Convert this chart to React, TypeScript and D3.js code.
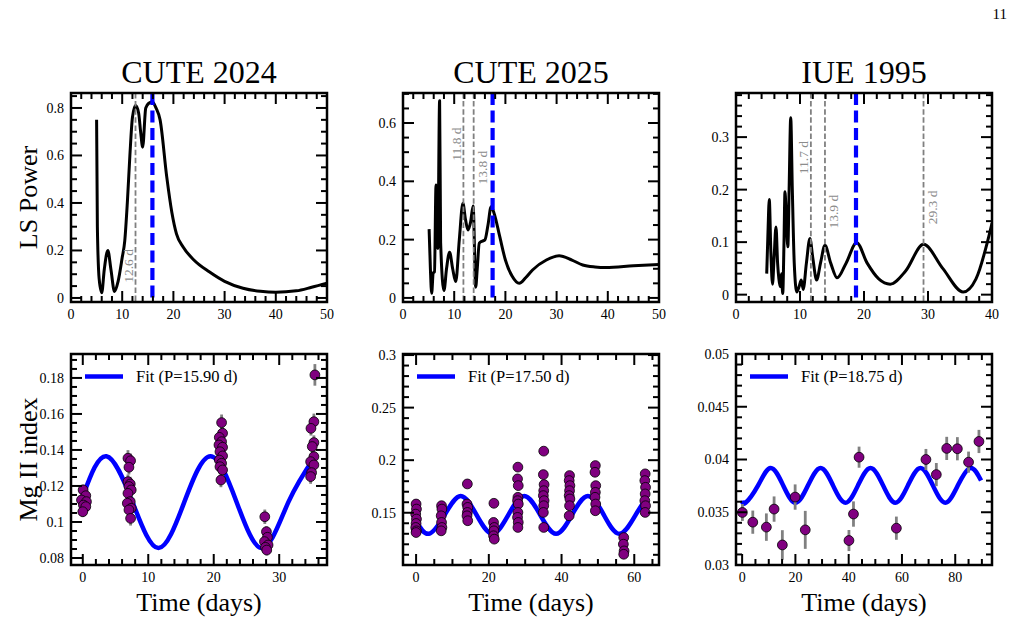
import React from "react";
import * as d3 from "d3";

// ---------- Lomb-Scargle periodograms (period in days -> power) ----------
const lsPeriodCute24 = [5.0, 5.15, 5.5, 6.0, 6.5, 7.2, 7.8, 8.5, 9.2, 10.0, 10.5, 11.0, 11.5, 12.0, 12.6, 13.2, 13.6, 14.0, 14.6, 15.2, 15.9, 16.6, 17.4, 18.7, 19.7, 20.6, 21.9, 24.0, 27.0, 30.0, 33.6, 37.0, 40.0, 44.0, 47.0, 50.0];
const lsPowerCute24 = [0.75, 0.3, 0.08, 0.022, 0.12, 0.2, 0.12, 0.027, 0.07, 0.17, 0.24, 0.4, 0.6, 0.76, 0.81, 0.78, 0.7, 0.635, 0.8, 0.82, 0.826, 0.8, 0.75, 0.51, 0.36, 0.27, 0.215, 0.16, 0.11, 0.07, 0.041, 0.028, 0.024, 0.03, 0.045, 0.062];

const lsPeriodCute25 = [5.1, 5.35, 5.6, 5.9, 6.15, 6.45, 6.8, 7.15, 7.35, 8.0, 8.5, 9.1, 9.7, 10.3, 11.0, 11.7, 12.2, 12.7, 13.2, 13.7, 14.2, 14.5, 14.9, 15.5, 16.0, 16.6, 17.2, 17.8, 18.9, 20.0, 21.3, 22.7, 24.0, 25.3, 28.0, 30.5, 33.0, 35.1, 37.5, 39.6, 45.0, 50.0];
const lsPowerCute25 = [0.236, 0.1, 0.016, 0.086, 0.09, 0.387, 0.17, 0.676, 0.19, 0.025, 0.1, 0.157, 0.1, 0.056, 0.2, 0.325, 0.27, 0.233, 0.26, 0.315, 0.037, 0.1, 0.188, 0.195, 0.199, 0.25, 0.313, 0.29, 0.21, 0.13, 0.075, 0.05, 0.07, 0.096, 0.13, 0.145, 0.13, 0.113, 0.106, 0.104, 0.11, 0.115];

const lsPeriodIue = [4.8, 5.0, 5.2, 5.45, 5.7, 5.95, 6.25, 6.5, 6.7, 6.9, 7.1, 7.3, 7.5, 7.65, 7.85, 8.1, 8.3, 8.55, 8.8, 9.1, 9.5, 9.85, 10.2, 10.5, 11.0, 11.55, 12.0, 12.6, 13.2, 13.9, 14.8, 15.8, 17.2, 18.85, 20.5, 22.3, 24.1, 26.5, 29.3, 32.3, 35.5, 37.5, 40.0];
const lsPowerIue = [0.04, 0.12, 0.181, 0.08, 0.02, 0.07, 0.129, 0.06, 0.03, 0.015, 0.04, 0.002, 0.1, 0.196, 0.15, 0.091, 0.2, 0.337, 0.2, 0.06, 0.005, 0.015, 0.028, 0.01, 0.06, 0.107, 0.07, 0.028, 0.06, 0.094, 0.06, 0.032, 0.06, 0.099, 0.06, 0.03, 0.02, 0.045, 0.096, 0.05, 0.005, 0.03, 0.136];

// best period (blue) and other marked peaks (grey)
const bestPeriods = [15.9, 17.5, 18.75];
const peakCute24 = [12.6];
const peakCute25 = [11.8, 13.8];
const peakIue = [11.7, 13.9, 29.3];
const peakLabelPowCute24 = [0.135];
const peakLabelPowCute25 = [0.528, 0.447];
const peakLabelPowIue = [0.261, 0.158, 0.166];
const peakLabelSideCute24 = ["left"];
const peakLabelSideCute25 = ["left", "right"];
const peakLabelSideIue = ["left", "right", "right"];

// ---------- Mg II index time series ----------
const timeCute24 = [
  0.05, 0.46, -0.2, 0.56, 0.1, 0.46, 0.0,
  6.9, 7.3, 7.05, 6.9, 7.25, 7.05, 7.4, 6.9, 7.25, 6.8, 7.4, 7.05, 7.3,
  21.2, 21.35, 20.85, 21.2, 20.8, 21.35, 20.95, 21.35, 20.85, 21.2, 20.95, 21.35, 21.1,
  27.8, 28.05, 28.2, 27.75, 28.3, 27.9, 28.1,
  35.45, 35.3, 34.85, 35.3, 35.05, 35.3, 34.8, 35.3, 34.95, 34.8,
];
const mgCute24 = [
  0.1178, 0.1146, 0.1122, 0.1113, 0.1094, 0.1085, 0.1057,
  0.1354, 0.134, 0.1304, 0.1224, 0.1211, 0.1197, 0.1178, 0.1159, 0.1113, 0.1104, 0.1076, 0.1067, 0.102,
  0.1552, 0.1493, 0.147, 0.1446, 0.1428, 0.1415, 0.139, 0.1367, 0.1344, 0.1326, 0.1307, 0.1289, 0.1233,
  0.1029, 0.0946, 0.0915, 0.0891, 0.0872, 0.0859, 0.0844,
  0.1817, 0.1557, 0.152, 0.1441, 0.1419, 0.1363, 0.1335, 0.1317, 0.1274, 0.1252,
];
const errCute24 = [
  0.003, 0.003, 0.003, 0.003, 0.003, 0.003, 0.003,
  0.0045, 0.004, 0.004, 0.004, 0.004, 0.004, 0.004, 0.004, 0.004, 0.004, 0.004, 0.004, 0.004,
  0.0045, 0.004, 0.004, 0.004, 0.004, 0.004, 0.004, 0.004, 0.004, 0.004, 0.004, 0.004, 0.004,
  0.004, 0.003, 0.003, 0.003, 0.003, 0.003, 0.003,
  0.006, 0.0045, 0.004, 0.004, 0.004, 0.004, 0.004, 0.004, 0.004, 0.004,
];

const timeCute25 = [
  0.0, 0.1, -0.1, 0.1, 0.0, -0.1, 0.1, 0.0,
  7.0, 7.1, 6.9, 7.0, 7.1, 6.9,
  14.1, 14.0, 14.2, 14.1, 14.0, 14.2,
  21.4, 21.3, 21.5, 21.4, 21.3, 21.5,
  28.0, 27.9, 28.1, 28.0, 27.9, 28.1, 28.0, 27.9, 28.1, 28.0,
  35.1, 35.0, 35.2, 35.1, 35.0, 35.2, 35.1, 35.0, 35.1,
  42.2, 42.1, 42.3, 42.2, 42.1, 42.3, 42.2, 42.1,
  49.3, 49.2, 49.4, 49.3, 49.2, 49.4, 49.3,
  57.1, 57.0, 57.2, 57.1,
  63.0, 62.9, 63.1, 63.0, 62.9, 63.1, 63.0,
];
const mgCute25 = [
  0.1583, 0.1535, 0.1487, 0.144, 0.1398, 0.136, 0.1328, 0.1312,
  0.1567, 0.1535, 0.1471, 0.1408, 0.136, 0.1328,
  0.1774, 0.1583, 0.1551, 0.1503, 0.1471, 0.1424,
  0.159, 0.1408, 0.136, 0.1328, 0.1281, 0.1249,
  0.1934, 0.1822, 0.1758, 0.1647, 0.1615, 0.1583, 0.1503, 0.1456, 0.1408, 0.136,
  0.2086, 0.1863, 0.1768, 0.171, 0.1663, 0.1615, 0.1567, 0.1503, 0.136,
  0.1854, 0.1806, 0.1758, 0.171, 0.1663, 0.1631, 0.1567, 0.1471,
  0.1949, 0.1885, 0.1758, 0.1694, 0.1647, 0.1583, 0.1519,
  0.1264, 0.1201, 0.1137, 0.1105,
  0.187, 0.1806, 0.1742, 0.1679, 0.1615, 0.1567, 0.1503,
];
const errCute25 = mgCute25.map(() => 0.003);

const timeIue = [0.1, 4.0, 9.1, 12.0, 15.1, 19.9, 23.7, 40.1, 41.8, 43.9, 57.9, 69.0, 72.9, 76.8, 80.8, 85.0, 88.9];
const mgIue = [0.03498, 0.03406, 0.03359, 0.0353, 0.0319, 0.03644, 0.03333, 0.03232, 0.03483, 0.04022, 0.03349, 0.04, 0.03857, 0.04105, 0.04102, 0.03975, 0.04171];
const errIue = [0.0008, 0.0011, 0.0013, 0.0012, 0.0014, 0.0012, 0.0018, 0.001, 0.0012, 0.001, 0.0011, 0.001, 0.0011, 0.0011, 0.0011, 0.001, 0.0011];

// fitted sinusoids at extrema and mid-crossings
const fitTimeCute24 = [0.1, 3.6, 7.6, 11.55, 15.5, 19.5, 23.5, 27.45, 31.4, 35.5];
const fitMgCute24 = [0.1152, 0.1365, 0.111, 0.0855, 0.111, 0.1365, 0.111, 0.0855, 0.111, 0.1365];
const fitTimeCute25 = [0, 3.5, 7.875, 12.25, 16.625, 21.0, 25.375, 29.75, 34.125, 38.5, 42.875, 47.25, 51.625, 56.0, 60.375, 63.2];
const fitMgCute25 = [0.1424, 0.13, 0.148, 0.166, 0.148, 0.13, 0.148, 0.166, 0.148, 0.13, 0.148, 0.166, 0.148, 0.13, 0.148, 0.163];
const fitTimeIue = [0, 1.3, 6.0, 10.7, 15.4, 20.05, 24.75, 29.45, 34.1, 38.8, 43.5, 48.2, 52.9, 57.55, 62.25, 66.95, 71.6, 76.3, 81.0, 85.7, 89.7];
const fitMgIue = [0.0361, 0.0359, 0.03755, 0.0392, 0.03755, 0.0359, 0.03755, 0.0392, 0.03755, 0.0359, 0.03755, 0.0392, 0.03755, 0.0359, 0.03755, 0.0392, 0.03755, 0.0359, 0.03755, 0.0392, 0.038];

const titles = ["CUTE 2024", "CUTE 2025", "IUE 1995"];
const fitLabels = ["Fit (P=15.90 d)", "Fit (P=17.50 d)", "Fit (P=18.75 d)"];

// ---------- layout ----------
const W = 1019, H = 625;
const FONT = '"Liberation Serif", "Times New Roman", "DejaVu Serif", serif';
const colLeft = [71, 403, 736];
const plotW = 256;
const topRow = [93, 302];
const botRow = [354, 565];

const lsPanels = [
  { period: lsPeriodCute24, power: lsPowerCute24, peaks: peakCute24, labelPow: peakLabelPowCute24, side: peakLabelSideCute24,
    xDomain: [0, 50], yDomain: [-0.017, 0.863], xMajor: 10, xMinor: 2, yMajor: 0.2, yMinor: 0.05 },
  { period: lsPeriodCute25, power: lsPowerCute25, peaks: peakCute25, labelPow: peakLabelPowCute25, side: peakLabelSideCute25,
    xDomain: [0, 50], yDomain: [-0.014, 0.703], xMajor: 10, xMinor: 2, yMajor: 0.2, yMinor: 0.05 },
  { period: lsPeriodIue, power: lsPowerIue, peaks: peakIue, labelPow: peakLabelPowIue, side: peakLabelSideIue,
    xDomain: [0, 40], yDomain: [-0.014, 0.384], xMajor: 10, xMinor: 2, yMajor: 0.1, yMinor: 0.02 },
];

const tsPanels = [
  { t: timeCute24, v: mgCute24, e: errCute24, ft: fitTimeCute24, fv: fitMgCute24,
    xDomain: [-1.8, 37.3], yDomain: [0.0761, 0.1933], xMajor: 10, xMinor: 2, yMajor: 0.02, yMinor: 0.005 },
  { t: timeCute25, v: mgCute25, e: errCute25, ft: fitTimeCute25, fv: fitMgCute25,
    xDomain: [-3.6, 66.8], yDomain: [0.1003, 0.301], xMajor: 20, xMinor: 5, yMajor: 0.05, yMinor: 0.01 },
  { t: timeIue, v: mgIue, e: errIue, ft: fitTimeIue, fv: fitMgIue,
    xDomain: [-2.3, 93.8], yDomain: [0.03, 0.05], xMajor: 20, xMinor: 5, yMajor: 0.005, yMinor: 0.001 },
];

const fmt = (v: number) => String(+v.toFixed(6));

function stepTicks(domain: number[], step: number) {
  const lo = Math.ceil(domain[0] / step - 1e-6);
  const hi = Math.floor(domain[1] / step + 1e-6);
  return d3.range(lo, hi + 1).map((k) => +(k * step).toFixed(8));
}
const onStep = (v: number, step: number) => Math.abs(v / step - Math.round(v / step)) < 1e-6;

const Frame = ({ x, y, cfg }: any) => {
  const [x0, x1] = x.range();
  const [y1, y0] = y.range();
  const xMaj = stepTicks(x.domain(), cfg.xMajor);
  const xMin = stepTicks(x.domain(), cfg.xMinor).filter((v) => !onStep(v, cfg.xMajor));
  const yMaj = stepTicks(y.domain(), cfg.yMajor);
  const yMin = stepTicks(y.domain(), cfg.yMinor).filter((v) => !onStep(v, cfg.yMajor));
  const major = 11, minor = 6;
  const tick = { stroke: "#000", strokeWidth: 2 };
  return (
    <g>
      {xMaj.map((v) => (
        <g key={"xM" + v}>
          <line x1={x(v)} x2={x(v)} y1={y1} y2={y1 - major} {...tick} />
          <line x1={x(v)} x2={x(v)} y1={y0} y2={y0 + major} {...tick} />
          <text x={x(v)} y={y1 + 16.5} textAnchor="middle" fontSize={14}>{fmt(v)}</text>
        </g>
      ))}
      {xMin.map((v) => (
        <g key={"xm" + v}>
          <line x1={x(v)} x2={x(v)} y1={y1} y2={y1 - minor} {...tick} />
          <line x1={x(v)} x2={x(v)} y1={y0} y2={y0 + minor} {...tick} />
        </g>
      ))}
      {yMaj.map((v) => (
        <g key={"yM" + v}>
          <line x1={x0} x2={x0 + major} y1={y(v)} y2={y(v)} {...tick} />
          <line x1={x1} x2={x1 - major} y1={y(v)} y2={y(v)} {...tick} />
          <text x={x0 - 7} y={y(v)} dy="0.35em" textAnchor="end" fontSize={14}>{fmt(v)}</text>
        </g>
      ))}
      {yMin.map((v) => (
        <g key={"ym" + v}>
          <line x1={x0} x2={x0 + minor} y1={y(v)} y2={y(v)} {...tick} />
          <line x1={x1} x2={x1 - minor} y1={y(v)} y2={y(v)} {...tick} />
        </g>
      ))}
      <rect x={x0} y={y0} width={x1 - x0} height={y1 - y0} fill="none" stroke="#000" strokeWidth={2.5} />
    </g>
  );
};

const LSPanel = ({ i }: { i: number }) => {
  const cfg = lsPanels[i];
  const x = d3.scaleLinear().domain(cfg.xDomain).range([colLeft[i], colLeft[i] + plotW]);
  const y = d3.scaleLinear().domain(cfg.yDomain).range([topRow[1], topRow[0]]);
  const line = d3.line<number>()
    .x((d) => x(cfg.period[d]))
    .y((d) => y(cfg.power[d]))
    .curve(d3.curveMonotoneX);
  const [y1, y0] = y.range();
  return (
    <g>
      <clipPath id={"lsclip" + i}>
        <rect x={colLeft[i]} y={y0} width={plotW} height={y1 - y0} />
      </clipPath>
      <g clipPath={`url(#lsclip${i})`}>
        <path d={line(d3.range(cfg.period.length)) || ""} fill="none" stroke="#000" strokeWidth={3} strokeLinejoin="round" />
        {cfg.peaks.map((p) => (
          <line key={p} x1={x(p)} x2={x(p)} y1={y0} y2={y1} stroke="#808080" strokeWidth={1.8} strokeDasharray="5.5,2.6" />
        ))}
        <line x1={x(bestPeriods[i])} x2={x(bestPeriods[i])} y1={y0} y2={y1} stroke="#0000ff" strokeWidth={4.2} strokeDasharray="12,5.5" />
      </g>
      {cfg.peaks.map((p, k) => {
        const bx = cfg.side[k] === "left" ? x(p) - 2.5 : x(p) + 13;
        return (
          <text key={"l" + p} transform={`translate(${bx},${y(cfg.labelPow[k])}) rotate(-90)`}
            textAnchor="middle" fontSize={13.5} fill="#8c8c8c">{`${p.toFixed(1)} d`}</text>
        );
      })}
      <Frame x={x} y={y} cfg={cfg} />
      <text x={colLeft[i] + plotW / 2} y={83} textAnchor="middle" fontSize={32}>{titles[i]}</text>
    </g>
  );
};

const TSPanel = ({ i }: { i: number }) => {
  const cfg = tsPanels[i];
  const x = d3.scaleLinear().domain(cfg.xDomain).range([colLeft[i], colLeft[i] + plotW]);
  const y = d3.scaleLinear().domain(cfg.yDomain).range([botRow[1], botRow[0]]);
  const fit = d3.line<number>()
    .x((d) => x(cfg.ft[d]))
    .y((d) => y(cfg.fv[d]))
    .curve(d3.curveNatural);
  const [y1, y0] = y.range();
  const lx = colLeft[i];
  return (
    <g>
      <clipPath id={"tsclip" + i}>
        <rect x={colLeft[i]} y={y0} width={plotW} height={y1 - y0} />
      </clipPath>
      <g clipPath={`url(#tsclip${i})`}>
        <path d={fit(d3.range(cfg.ft.length)) || ""} fill="none" stroke="#0000ff" strokeWidth={4.5} />
        {cfg.t.map((t, k) => (
          <line key={"e" + k} x1={x(t)} x2={x(t)} y1={y(cfg.v[k] - cfg.e[k])} y2={y(cfg.v[k] + cfg.e[k])}
            stroke="#808080" strokeWidth={2.8} />
        ))}
        {cfg.t.map((t, k) => (
          <circle key={"p" + k} cx={x(t)} cy={y(cfg.v[k])} r={4.9} fill="#800080" stroke="#000" strokeWidth={0.8} />
        ))}
      </g>
      <line x1={lx + 14} x2={lx + 52} y1={y0 + 22.5} y2={y0 + 22.5} stroke="#0000ff" strokeWidth={4.5} />
      <text x={lx + 65} y={y0 + 22.5} dy="0.33em" fontSize={16.5}>{fitLabels[i]}</text>
      <Frame x={x} y={y} cfg={cfg} />
      <text x={colLeft[i] + plotW / 2} y={611} textAnchor="middle" fontSize={26}>Time (days)</text>
    </g>
  );
};

const App = () => {
  return (
    <svg width={W} height={H} style={{ position: "absolute", left: 0, top: 0, background: "#fff" }}
      fontFamily={FONT}>
      <rect x={0} y={0} width={W} height={H} fill="#fff" />
      <text x={1007} y={19} textAnchor="end" fontSize={15}>11</text>
      {[0, 1, 2].map((i) => <LSPanel key={"ls" + i} i={i} />)}
      {[0, 1, 2].map((i) => <TSPanel key={"ts" + i} i={i} />)}
      <text transform={`translate(37,${(topRow[0] + topRow[1]) / 2}) rotate(-90)`} textAnchor="middle" fontSize={26}>LS Power</text>
      <text transform={`translate(37,${(botRow[0] + botRow[1]) / 2}) rotate(-90)`} textAnchor="middle" fontSize={26}>Mg II index</text>
    </svg>
  );
};

export default App;
